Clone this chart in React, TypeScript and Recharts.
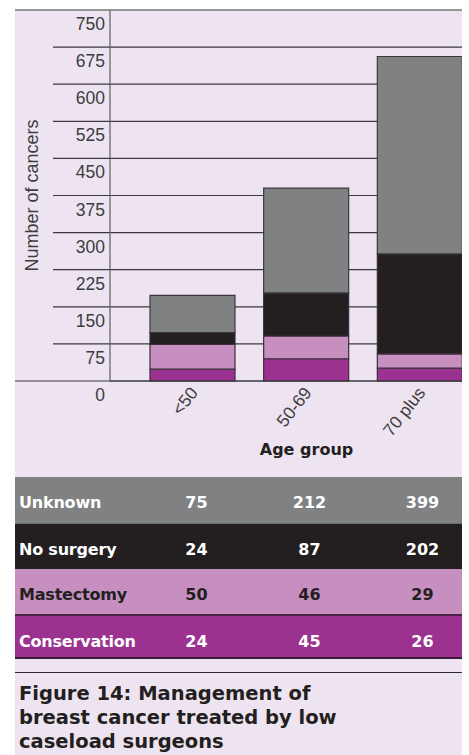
import React from "react";
import { BarChart, Bar, XAxis, YAxis, CartesianGrid } from "recharts";

const categories = ["<50", "50-69", "70 plus"];
const conservation = [24, 45, 26];
const mastectomy = [50, 46, 29];
const noSurgery = [24, 87, 202];
const unknown = [75, 212, 399];
const yTicks = [0, 75, 150, 225, 300, 375, 450, 525, 600, 675, 750];

const LAVENDER = "#eee3f0";
const GREY = "#808183";
const BLACK = "#231f20";
const PINK = "#c68fc0";
const PURPLE = "#9b3290";
const SANS = "'Liberation Sans', Arial, sans-serif";
const HEAVY = "'DejaVu Sans', sans-serif";

const data = categories.map((c, i) => ({
  group: c,
  conservation: conservation[i],
  mastectomy: mastectomy[i],
  noSurgery: noSurgery[i],
  unknown: unknown[i],
}));

const rows = [
  { name: "Unknown", values: unknown, bg: GREY, fg: "#ffffff", h: 46 },
  { name: "No surgery", values: noSurgery, bg: BLACK, fg: "#ffffff", h: 46 },
  { name: "Mastectomy", values: mastectomy, bg: PINK, fg: BLACK, h: 45 },
  { name: "Conservation", values: conservation, bg: PURPLE, fg: "#ffffff", h: 45 },
];

function YTick(props: any) {
  const { x, y, payload } = props;
  const edge = payload.value === 0 || payload.value === 750;
  return (
    <g>
      <line x1={edge ? x - 95 : x - 57} x2={x} y1={y} y2={y} stroke="#3a3a3a" strokeWidth={1.2} />
      <text x={x - 5} y={y + 20} textAnchor="end" fontSize={17.5} fill="#3d3d3d" fontFamily={SANS}>
        {payload.value}
      </text>
    </g>
  );
}

function XTick(props: any) {
  const { x, y, payload } = props;
  return (
    <text
      transform={`translate(${x + 6},${y + 10}) rotate(-52)`}
      textAnchor="end"
      fontSize={17.5}
      fill="#3d3d3d"
      fontFamily={SANS}
    >
      {payload.value}
    </text>
  );
}

export default function App() {
  const cellStroke = "#3a2d39";
  return (
    <div style={{ position: "absolute", left: 0, top: 0, width: 469, height: 755, background: "#fff", overflow: "hidden" }}>
      <div style={{ position: "absolute", left: 15, top: 10, width: 447, height: 745, background: LAVENDER }} />
      <div style={{ position: "absolute", left: 0, top: 0, width: 462, height: 470, overflow: "hidden" }}>
        <BarChart width={480} height={470} data={data} margin={{ top: 10, right: 3, left: 0, bottom: 0 }}>
          <CartesianGrid vertical={false} stroke="#3a3a3a" strokeWidth={1.2} />
          <YAxis
            width={110}
            domain={[0, 750]}
            ticks={yTicks}
            interval={0}
            tickSize={0}
            tickMargin={0}
            tickLine={false}
            axisLine={{ stroke: "#7a7a7a", strokeWidth: 1.5 }}
            tick={<YTick />}
            label={{
              value: "Number of cancers",
              angle: -90,
              position: "insideLeft",
              dx: 27,
              dy: 0,
              style: { fontSize: 18, fill: "#3d3d3d", fontFamily: SANS, textAnchor: "middle" },
            }}
          />
          <XAxis
            dataKey="group"
            height={89}
            padding={{ left: 26, right: 0 }}
            tickSize={0}
            tickLine={false}
            axisLine={{ stroke: "#3a3a3a", strokeWidth: 1.2 }}
            tick={<XTick />}
            interval={0}
            label={{
              value: "Age group",
              position: "insideBottom",
              offset: 15,
              dx: 13,
              style: { fontSize: 16, fontWeight: 700, fill: BLACK, fontFamily: HEAVY },
            }}
          />
          <Bar dataKey="conservation" stackId="a" fill={PURPLE} stroke={cellStroke} strokeWidth={1.2} barSize={85} isAnimationActive={false} />
          <Bar dataKey="mastectomy" stackId="a" fill={PINK} stroke={cellStroke} strokeWidth={1.2} barSize={85} isAnimationActive={false} />
          <Bar dataKey="noSurgery" stackId="a" fill={BLACK} stroke={cellStroke} strokeWidth={1.2} barSize={85} isAnimationActive={false} />
          <Bar dataKey="unknown" stackId="a" fill={GREY} stroke="#3a3a3a" strokeWidth={1.2} barSize={85} isAnimationActive={false} />
        </BarChart>
      </div>

      <div style={{ position: "absolute", left: 15, top: 477, width: 447 }}>
        {rows.map((r, ri) => (
          <div
            key={r.name}
            style={{
              position: "relative",
              height: r.h,
              background: r.bg,
              color: r.fg,
              fontFamily: HEAVY,
              fontWeight: 700,
              fontSize: 16,
              borderTop: ri === 1 ? "1px solid #6e6e70" : ri === 3 ? "2px solid #4a2346" : "none",
              borderBottom: ri === 3 ? "2px solid #3d1a3a" : "none",
              boxSizing: "border-box",
            }}
          >
            <span style={{ position: "absolute", left: 4, top: 16, letterSpacing: -0.2 }}>{r.name}</span>
            {r.values.map((v, i) => (
              <span
                key={i}
                style={{ position: "absolute", left: 125 + i * 113, width: 113, top: 16, textAlign: "center" }}
              >
                {v}
              </span>
            ))}
          </div>
        ))}
      </div>

      <div style={{ position: "absolute", left: 15, top: 672, width: 447, borderTop: "1.5px solid #2a2a2a" }} />
      <div
        style={{
          position: "absolute",
          left: 19,
          top: 682,
          fontFamily: HEAVY,
          fontWeight: 700,
          fontSize: 19.5,
          lineHeight: "24px",
          color: BLACK,
          letterSpacing: 0,
        }}
      >
        Figure 14: Management of
        <br />
        breast cancer treated by low
        <br />
        caseload surgeons
      </div>
    </div>
  );
}
